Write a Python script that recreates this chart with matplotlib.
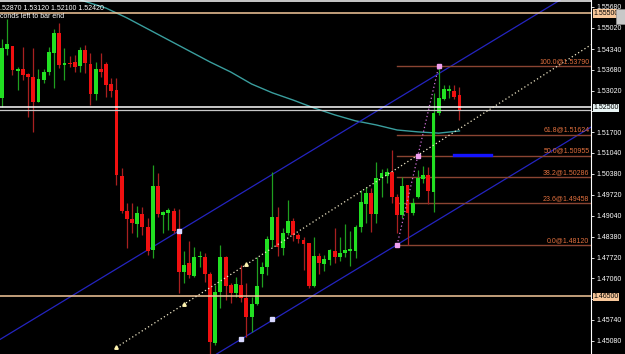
import numpy as np
import matplotlib.pyplot as plt
from matplotlib.transforms import blended_transform_factory
from matplotlib.patches import Rectangle

plt.rcParams['font.family'] = ['Liberation Sans', 'DejaVu Sans']

# candles (oldest -> newest)
opens = [1.5279, 1.5434, 1.5444, 1.5364, 1.5371, 1.5355, 1.5345, 1.5266, 1.5336, 1.5361,
         1.5421, 1.5485, 1.5383, 1.5390, 1.5393, 1.5380, 1.5431, 1.5387, 1.5291, 1.5371,
         1.5387, 1.5323, 1.5304, 1.5031, 1.4920, 1.4894, 1.4879, 1.4910, 1.4869, 1.4796,
         1.4999, 1.4907, 1.4913, 1.4920, 1.4856, 1.4726, 1.4755, 1.4713, 1.4774, 1.4774,
         1.4720, 1.4501, 1.4663, 1.4774, 1.4685, 1.4659, 1.4685, 1.4644, 1.4583, 1.4625,
         1.4720, 1.4742, 1.4828, 1.4901, 1.4802, 1.4850, 1.4888, 1.4844, 1.4828, 1.4818,
         1.4682, 1.4777, 1.4752, 1.4764, 1.4793, 1.4774, 1.4786, 1.4793, 1.4793, 1.4869,
         1.4942, 1.4977, 1.4910, 1.5025, 1.5031, 1.5044, 1.4964, 1.4907, 1.5002, 1.4913,
         1.4964, 1.5021, 1.5034, 1.4980, 1.5231, 1.5275, 1.5301, 1.5301, 1.5287]
highs = [1.5466, 1.5529, 1.5444, 1.5377, 1.5441, 1.5358, 1.5437, 1.5371, 1.5371, 1.5441,
         1.5498, 1.5517, 1.5437, 1.5412, 1.5415, 1.5441, 1.5447, 1.5421, 1.5393, 1.5421,
         1.5393, 1.5342, 1.5342, 1.5056, 1.4945, 1.4945, 1.4936, 1.4933, 1.4898, 1.5066,
         1.5040, 1.4920, 1.4929, 1.4929, 1.4926, 1.4793, 1.4825, 1.4806, 1.4793, 1.4786,
         1.4726, 1.4685, 1.4812, 1.4777, 1.4691, 1.4710, 1.4748, 1.4691, 1.4647, 1.4774,
         1.4758, 1.4840, 1.5044, 1.4933, 1.4866, 1.4955, 1.4898, 1.4850, 1.4837, 1.4818,
         1.4837, 1.4786, 1.4780, 1.4799, 1.4866, 1.4837, 1.4879, 1.4856, 1.4875, 1.4987,
         1.4996, 1.4993, 1.5075, 1.5053, 1.5056, 1.5113, 1.4974, 1.5028, 1.5002, 1.4961,
         1.5050, 1.5063, 1.5059, 1.5294, 1.5379, 1.5320, 1.5320, 1.5320, 1.5312]
lows = [1.5250, 1.5415, 1.5352, 1.5304, 1.5336, 1.5218, 1.5171, 1.5266, 1.5326, 1.5352,
        1.5310, 1.5374, 1.5336, 1.5377, 1.5361, 1.5361, 1.5358, 1.5256, 1.5272, 1.5345,
        1.5282, 1.5282, 1.5002, 1.4913, 1.4802, 1.4850, 1.4837, 1.4844, 1.4780, 1.4771,
        1.4901, 1.4850, 1.4860, 1.4850, 1.4659, 1.4691, 1.4707, 1.4710, 1.4742, 1.4694,
        1.4466, 1.4494, 1.4612, 1.4637, 1.4628, 1.4647, 1.4631, 1.4520, 1.4536, 1.4621,
        1.4679, 1.4717, 1.4806, 1.4777, 1.4780, 1.4844, 1.4825, 1.4818, 1.4733, 1.4675,
        1.4679, 1.4720, 1.4729, 1.4748, 1.4755, 1.4761, 1.4774, 1.4745, 1.4771, 1.4853,
        1.4882, 1.4853, 1.4882, 1.4964, 1.5009, 1.4945, 1.4850, 1.4898, 1.4812, 1.4907,
        1.4961, 1.5009, 1.4942, 1.4917, 1.5225, 1.5272, 1.5279, 1.5275, 1.5210]
closes = [1.5437, 1.5450, 1.5368, 1.5371, 1.5352, 1.5345, 1.5266, 1.5339, 1.5361, 1.5425,
          1.5485, 1.5383, 1.5390, 1.5387, 1.5377, 1.5431, 1.5390, 1.5291, 1.5371, 1.5361,
          1.5320, 1.5301, 1.5034, 1.4920, 1.4894, 1.4882, 1.4913, 1.4869, 1.4793, 1.4999,
          1.4910, 1.4917, 1.4923, 1.4856, 1.4726, 1.4748, 1.4717, 1.4774, 1.4777, 1.4720,
          1.4504, 1.4663, 1.4774, 1.4682, 1.4659, 1.4688, 1.4644, 1.4583, 1.4625, 1.4682,
          1.4742, 1.4831, 1.4901, 1.4806, 1.4850, 1.4888, 1.4844, 1.4831, 1.4815, 1.4682,
          1.4777, 1.4755, 1.4767, 1.4796, 1.4774, 1.4786, 1.4796, 1.4799, 1.4869, 1.4948,
          1.4977, 1.4910, 1.5025, 1.5040, 1.5044, 1.4964, 1.4907, 1.4999, 1.4913, 1.4945,
          1.5025, 1.5034, 1.4983, 1.5231, 1.5279, 1.5307, 1.5307, 1.5282, 1.5242]

# moving average (bar index, value)
ma_idx = [12, 16, 20, 24, 28, 32, 36, 40, 44, 48, 52, 56, 60, 64, 68, 72, 76, 80, 84, 88]
ma_val = [1.5605, 1.5585, 1.5564, 1.5533, 1.5498, 1.5463, 1.5428, 1.5393, 1.5361, 1.5323,
          1.5295, 1.5272, 1.5247, 1.5225, 1.5206, 1.5193, 1.5177, 1.5171, 1.5167, 1.5174]

# horizontal levels
hlines_white = [1.5585, 1.5250]
bid = 1.5242
hlines_orange = [1.5550, 1.4650]

# channel (anchor bar, price), slope per bar
upper_anchor = (34, 1.4856)
lower_anchor = (46, 1.4513)
chan_slope = 0.0010
lower_marks = [(46, 1.4513), (52, 1.4577)]
mid_pts = [(22, 1.4487), (35, 1.4623), (47, 1.4750)]

# fibonacci
fib_lo = (76, 1.4812)
fib_hi = (84, 1.5379)
fib_ratios = [0.0, 23.6, 38.2, 50.0, 61.8, 100.0]
blue_seg = (87, 94, 1.5098)

yticks = [1.55680, 1.55020, 1.54340, 1.53680, 1.53020, 1.52360, 1.51700, 1.51040, 1.50380,
          1.49720, 1.49040, 1.48380, 1.47720, 1.47060, 1.46400, 1.45740, 1.45080]
hidden_ticks = [1.52360, 1.46400]   # covered by the price boxes

fig = plt.figure(figsize=(6.25, 3.54), dpi=100, facecolor='black')
ax = fig.add_axes([0, 0, 591 / 625, 1], facecolor='black')

o = np.array(opens); h = np.array(highs); l = np.array(lows); c = np.array(closes)
x = np.arange(len(o))
up = c >= o
ax.vlines(x[up], l[up], h[up], color='#1f9f1f', lw=0.9, zorder=3)
ax.vlines(x[~up], l[~up], h[~up], color='#a82020', lw=0.9, zorder=3)
body = np.maximum(np.abs(c - o), 0.00025)
ax.bar(x[up], body[up], bottom=o[up], width=0.74, color='#22e022', lw=0, zorder=4)
ax.bar(x[~up], body[~up], bottom=c[~up], width=0.74, color='#f01010', lw=0, zorder=4)

ax.plot(ma_idx, ma_val, color='#3a9e9e', lw=1, zorder=2)

for y in hlines_white:
    ax.axhline(y, color='white', lw=1.1, zorder=5)
ax.axhline(bid, color='#c8c8c8', lw=0.9, zorder=5)
for y in hlines_orange:
    ax.axhline(y, color='#f5c89a', lw=1.1, zorder=5)

# channel
ax.axline(upper_anchor, slope=chan_slope, color='#2424c0', lw=0.9, zorder=2)
ax.axline(lower_anchor, slope=chan_slope, color='#2424c0', lw=0.9, zorder=2)
ax.plot(*upper_anchor, 's', ms=2.5, color='#d8d8ff', zorder=6)
ax.plot(*zip(*lower_marks), 's', ls='none', ms=2.5, color='#d8d8ff', zorder=6)
mslope = (mid_pts[2][1] - mid_pts[0][1]) / (mid_pts[2][0] - mid_pts[0][0])
xe = 113.3
ax.plot([mid_pts[0][0], xe], [mid_pts[0][1], mid_pts[0][1] + mslope * (xe - mid_pts[0][0])],
        color='#f0e8c8', lw=0.9, ls=(0, (1, 2)), zorder=5)
ax.plot(*zip(*mid_pts), '^', ls='none', ms=2.5, color='#fff4b0', zorder=6)

# fibonacci
rng = fib_hi[1] - fib_lo[1]
for r in fib_ratios:
    lev = fib_lo[1] + rng * r / 100
    ax.plot([fib_lo[0], xe], [lev, lev], color='#8a4432', lw=1, zorder=2)
    ax.text(113.0, lev + 0.0003, f'{r:.1f}@{lev:.5f}', color='#e2703e', fontsize=5,
            ha='right', va='bottom', zorder=7)
ax.plot([fib_lo[0], fib_hi[0]], [fib_lo[1], fib_hi[1]], color='#d070d8', lw=0.9,
        ls=(0, (1, 2)), zorder=5)
fmid = ((fib_lo[0] + fib_hi[0]) / 2, fib_lo[1] + rng / 2)
ax.plot([fib_lo[0], fmid[0], fib_hi[0]], [fib_lo[1], fmid[1], fib_hi[1]], 's', ls='none',
        ms=2.5, color='#f0a0f0', zorder=6)
ax.plot([blue_seg[0], blue_seg[1]], [blue_seg[2], blue_seg[2]], color='#1414ff', lw=2.4, zorder=6)

ax.set_xlim(-0.4, 113.3)
ax.set_ylim(1.44658, 1.55897)
ax.set_xticks([])
ax.yaxis.tick_right()
ax.set_yticks(yticks)
ax.set_yticklabels(['' if t in hidden_ticks else f'{t:.5f}' for t in yticks])
ax.tick_params(axis='y', colors='white', labelsize=5, length=2.5, width=0.6, pad=1.5)
for s in ['left', 'top', 'bottom']:
    ax.spines[s].set_visible(False)
ax.spines['right'].set_color('white')
ax.spines['right'].set_linewidth(0.8)

tr = blended_transform_factory(ax.transAxes, ax.transData)
for val, fc in [(1.5550, '#f7c79a'), (1.5250, '#e8f4f4'), (1.4650, '#f7c79a')]:
    ax.text(1.004, val - 0.0003, f'{val:.5f}', transform=tr, fontsize=5, color='black',
            ha='left', va='center', clip_on=False, zorder=10,
            bbox=dict(boxstyle='square,pad=0.08', fc=fc, ec='none'))

fig.text(0.0, 0.987, '.52870 1.53120 1.52100 1.52420', color='white', fontsize=5,
         ha='left', va='top')
fig.text(0.0, 0.962, 'conds left to bar end', color='white', fontsize=5, ha='left', va='top')
fig.patches.append(Rectangle((616 / 625, 330 / 354), 9 / 625, 15 / 354,
                             transform=fig.transFigure, fc='#c8c8c8', ec='#909090', lw=0.5))

fig.savefig('out.png', dpi=100, facecolor='black')
